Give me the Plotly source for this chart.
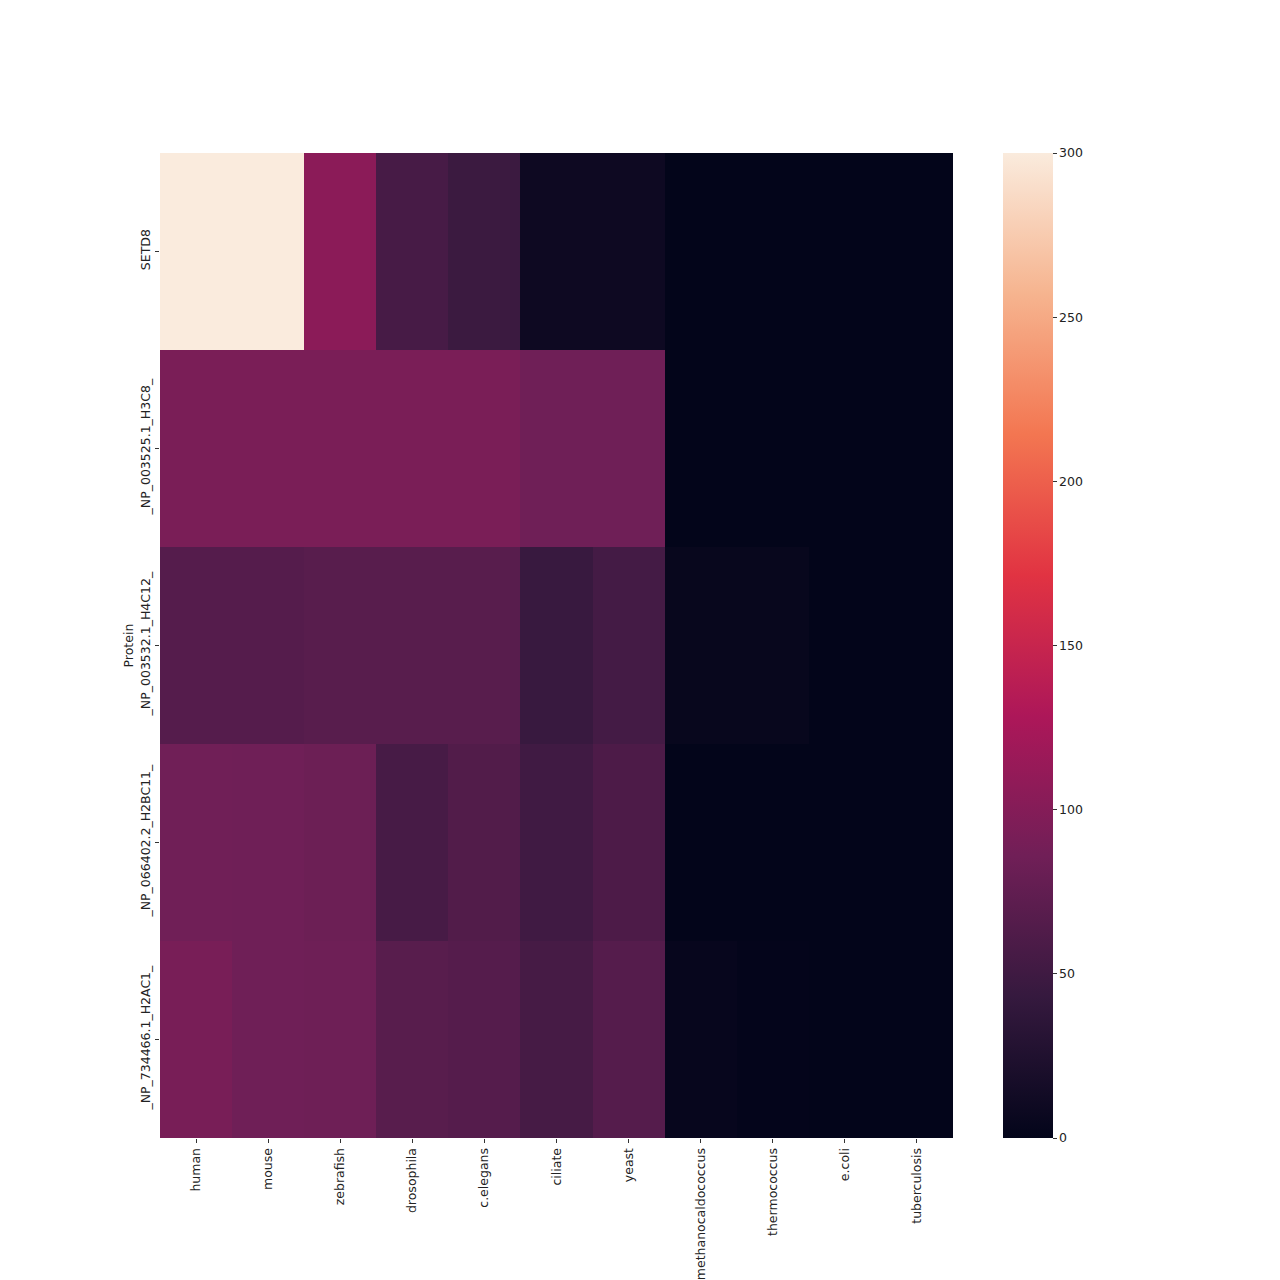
import plotly.graph_objects as go

organisms = ["human", "mouse", "zebrafish", "drosophila", "c.elegans", "ciliate",
             "yeast", "methanocaldococcus", "thermococcus", "e.coli", "tuberculosis"]
proteins = ["SETD8", "_NP_003525.1_H3C8_", "_NP_003532.1_H4C12_",
            "_NP_066402.2_H2BC11_", "_NP_734466.1_H2AC1_"]

setd8 = [300, 300, 105, 56, 47, 9, 9, 0, 0, 0, 0]
h3c8 = [93, 93, 93, 93, 93, 85, 85, 0, 0, 0, 0]
h4c12 = [66, 66, 68, 68, 68, 45, 54, 4, 4, 0, 0]
h2bc11 = [86, 85, 83, 56, 64, 51, 60, 0, 0, 0, 0]
h2ac1 = [91, 85, 84, 68, 66, 55, 66, 3, 1, 0, 0]

z = [setd8, h3c8, h4c12, h2bc11, h2ac1]

rocket = [
    [0.0, "#03051a"],
    [1 / 7, "#35193e"],
    [2 / 7, "#701f57"],
    [3 / 7, "#ad1759"],
    [4 / 7, "#e13342"],
    [5 / 7, "#f37651"],
    [6 / 7, "#f6b48f"],
    [1.0, "#faebdd"],
]

W, H = 1280, 1280
OFF = 8  # default page body margin
L, R, T, B = 160 - OFF, 953 - OFF, 153 - OFF, 1138 - OFF
CB_X = 1003 - OFF

fig = go.Figure(go.Heatmap(
    z=z, x=organisms, y=proteins,
    colorscale=rocket, zmin=0, zmax=300,
    colorbar=dict(
        x=(CB_X - L) / (R - L), xanchor="left", xpad=0,
        y=0.5, yanchor="middle", len=1.0, lenmode="fraction",
        thickness=50, thicknessmode="pixels",
        outlinewidth=0,
        tickvals=[0, 50, 100, 150, 200, 250, 300],
        ticks="outside", ticklen=4, tickwidth=1, tickcolor="#333",
        tickfont=dict(family="DejaVu Sans", size=12.5, color="#222"),
        ypad=0,
    ),
))

fig.update_layout(
    width=W, height=H,
    margin=dict(l=L, r=W - R, t=T, b=H - B, pad=0),
    paper_bgcolor="white", plot_bgcolor="white",
    font=dict(family="DejaVu Sans", size=12.5, color="#222"),
    xaxis=dict(
        tickangle=-90, ticks="outside", ticklen=4, tickwidth=1, tickcolor="#333",
        showgrid=False, zeroline=False, showline=False, automargin=False,
        tickfont=dict(family="DejaVu Sans", size=12.5, color="#222"),
    ),
    yaxis=dict(
        autorange="reversed", tickangle=-90, ticks="outside", ticklen=4, tickwidth=1,
        tickcolor="#333", showgrid=False, zeroline=False, showline=False, automargin=False,
        tickfont=dict(family="DejaVu Sans", size=12.5, color="#222"),
    ),
    annotations=[dict(
        text="Protein", textangle=-90, xref="paper", yref="paper",
        x=(128 - OFF - L) / (R - L), y=0.5, xanchor="center", yanchor="middle",
        showarrow=False, font=dict(family="DejaVu Sans", size=12.5, color="#222"),
    )],
)

fig.write_html("out.html")
